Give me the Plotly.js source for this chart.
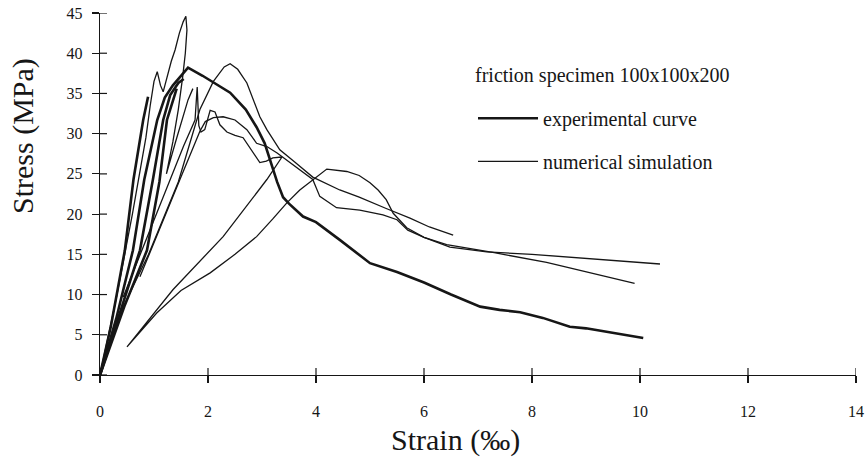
<!DOCTYPE html>
<html>
<head>
<meta charset="utf-8">
<script src="https://cdn.plot.ly/plotly-3.0.1.min.js"></script>
<style>html,body{margin:0;padding:0;background:#fff;}#chart{width:867px;height:464px;}</style>
</head>
<body>
<div id="chart"></div>
<script>
// ---- data ----
var xTicks = [0, 2, 4, 6, 8, 10, 12, 14];
var yTicks = [0, 5, 10, 15, 20, 25, 30, 35, 40, 45];

// experimental curves (thick)
var expMainX = [0, 0.3, 0.61, 0.82, 1.06, 1.2, 1.35, 1.5, 1.63, 1.9, 2.2, 2.41, 2.7, 2.9, 3.05, 3.15, 3.28, 3.39, 3.5, 3.76, 4.0, 4.44, 5.0, 5.5, 6.0, 6.5, 7.04, 7.4, 7.78, 8.2, 8.7, 9.0, 9.5, 10.06];
var expMainY = [0, 7, 15.5, 24.3, 31.7, 34.5, 36, 37.2, 38.2, 37.2, 36, 35.1, 33, 30.8, 28.8, 26.7, 24, 22.1, 21.3, 19.7, 19.0, 16.8, 13.9, 12.8, 11.5, 10.0, 8.5, 8.1, 7.8, 7.1, 6.0, 5.8, 5.2, 4.6];
var exp2X = [0, 0.2, 0.46, 0.62, 0.8, 0.89];
var exp2Y = [0, 6, 15.5, 24.3, 31.7, 34.6];
var exp3X = [0, 0.4, 0.74, 0.98, 1.17, 1.3, 1.45, 1.55];
var exp3Y = [0, 8.5, 15.5, 24.3, 31.7, 34.8, 36.3, 36.8];
var exp4X = [0, 0.45, 0.87, 1.1, 1.24, 1.35, 1.42];
var exp4Y = [0, 8.5, 15.5, 24, 31.7, 34.2, 35.6];

// numerical simulations (thin)
var numAX = [0.43, 0.8, 1.06, 1.3, 1.55, 1.76, 1.8, 1.83, 1.87, 1.94, 2.04, 2.13, 2.22, 2.35, 2.5, 2.65, 2.8, 2.96, 3.08, 3.2, 3.37, 3.09, 2.28, 1.35, 0.5, 1.05, 1.5, 2.04, 2.5, 2.9, 3.2, 3.46, 3.7, 3.94, 4.2, 4.57, 4.8, 5.0, 5.15, 5.3, 5.43, 5.68, 6.0, 6.48, 7.16, 8.0, 9.0, 10.37];
var numAY = [9.7, 15.9, 20.3, 24.3, 28.5, 31.7, 35.8, 31, 30.2, 30.5, 32.9, 32.7, 31.1, 30.2, 29.8, 29.5, 28, 26.4, 26.6, 27, 27.1, 24.3, 17.2, 10.6, 3.5, 7.7, 10.5, 12.7, 15, 17.2, 19.4, 21.4, 23, 24.3, 25.6, 25.3, 24.8, 23.9, 23, 21.8, 20.1, 18.3, 17.1, 15.9, 15.3, 15.0, 14.5, 13.8];
var numBX = [0.74, 1.1, 1.48, 1.85, 1.95, 2.1, 2.28, 2.5, 2.72, 2.9, 3.09, 3.28, 3.6, 3.94, 4.07, 4.38, 4.81, 5.24, 5.5, 5.7, 6.0, 6.42, 7.3, 8.27, 9.9];
var numBY = [12.2, 18.2, 24.3, 30.3, 31.5, 32, 32.1, 31.7, 30.5, 28.8, 28.4, 27.6, 26, 24.3, 22.2, 20.8, 20.5, 19.9, 19.3, 18, 17.1, 16.2, 15.2, 14, 11.4];
var numCX = [0.33, 0.9, 1.45, 1.85, 2.1, 2.3, 2.41, 2.55, 2.72, 2.96, 3.09, 3.33, 3.6, 3.94, 4.44, 4.8, 5.3, 5.74, 6.1, 6.54];
var numCY = [7.1, 15, 24, 33, 36.5, 38.3, 38.7, 38, 36.3, 32.1, 30.5, 28, 26.5, 24.6, 23, 22.1, 20.7, 19.5, 18.4, 17.4];
var numDX = [0, 0.3, 0.6, 0.85, 0.93, 1.0, 1.06, 1.12, 1.17, 1.24, 1.32, 1.39, 1.47, 1.54, 1.59, 1.61, 1.58, 1.53, 1.45, 1.35, 1.23, 1.4, 1.63, 1.72];
var numDY = [0, 9.5, 20, 29.5, 33.5, 36.5, 37.7, 36, 35.2, 37, 39, 40.4, 42.5, 43.9, 44.6, 42.9, 40, 37, 33, 29, 25, 29, 34.2, 35.6];

var expName = 'experimental curve';
var numName = 'numerical simulation';
var legendTitle = 'friction specimen 100x100x200';
var xTitle = 'Strain (‰)';
var yTitle = 'Stress (MPa)';

// ---- styles ----
var ink = '#161616';
var serif = 'Liberation Serif, Times New Roman, serif';
function thick(x, y, show) {
  return {x: x, y: y, type: 'scatter', mode: 'lines', name: expName, legendgroup: 'exp',
          showlegend: !!show, line: {color: ink, width: 2.6}, hoverinfo: 'x+y'};
}
function thin(x, y, show) {
  return {x: x, y: y, type: 'scatter', mode: 'lines', name: numName, legendgroup: 'num',
          showlegend: !!show, line: {color: ink, width: 1.3}, hoverinfo: 'x+y'};
}

var data = [
  thick(expMainX, expMainY, true),
  thin(numAX, numAY, true),
  thick(exp2X, exp2Y), thick(exp3X, exp3Y), thick(exp4X, exp4Y),
  thin(numBX, numBY), thin(numCX, numCY), thin(numDX, numDY)
];

var axCommon = {
  showgrid: false, zeroline: false, showline: true, linecolor: ink, linewidth: 1.2,
  tickcolor: ink, tickwidth: 1.2, ticklen: 7, ticks: 'outside',
  tickfont: {family: serif, size: 16, color: ink}
};

// inner half of the crossing tick marks (anchored at the tick values, sized in pixels)
var tickShapes = [];
xTicks.forEach(function (v) {
  tickShapes.push({type: 'line', xref: 'x', yref: 'y', ysizemode: 'pixel', yanchor: 0,
                   x0: v, x1: v, y0: 0, y1: 7, line: {color: ink, width: 1.2}});
});
yTicks.forEach(function (v) {
  tickShapes.push({type: 'line', xref: 'x', yref: 'y', xsizemode: 'pixel', xanchor: 0,
                   x0: 0, x1: 7, y0: v, y1: v, line: {color: ink, width: 1.2}});
});

var layout = {
  width: 867, height: 464,
  margin: {l: 100, r: 11, t: 13, b: 89},
  paper_bgcolor: '#fff', plot_bgcolor: '#fff',
  font: {family: serif, color: ink},
  showlegend: true,
  xaxis: Object.assign({}, axCommon, {range: [0, 14], tickvals: xTicks, ticktext: xTicks.map(String), ticklabelstandoff: 15}),
  yaxis: Object.assign({}, axCommon, {range: [0, 45], tickvals: yTicks, ticktext: yTicks.map(String), ticklabelstandoff: 6}),
  shapes: tickShapes,
  legend: {
    x: 0.4934, y: 0.763, xanchor: 'left', yanchor: 'top',
    bgcolor: 'rgba(0,0,0,0)', borderwidth: 0,
    font: {family: serif, size: 20, color: ink},
    itemwidth: 60, tracegroupgap: 14
  },
  annotations: [
    {text: legendTitle, xref: 'paper', yref: 'paper', x: 0.4934, y: 0.826, xanchor: 'left', yanchor: 'middle',
     showarrow: false, font: {family: serif, size: 20, color: ink}},
    {text: xTitle, xref: 'paper', yref: 'paper', x: 0.47, y: -0.18, xanchor: 'center', yanchor: 'middle',
     showarrow: false, font: {family: serif, size: 30, color: ink}},
    {text: yTitle, xref: 'paper', yref: 'paper', x: -0.102, y: 0.66, xanchor: 'center', yanchor: 'middle',
     textangle: -90, showarrow: false, font: {family: serif, size: 30, color: ink}}
  ]
};

Plotly.newPlot('chart', data, layout, {displayModeBar: false, staticPlot: true});
</script>
</body>
</html>
